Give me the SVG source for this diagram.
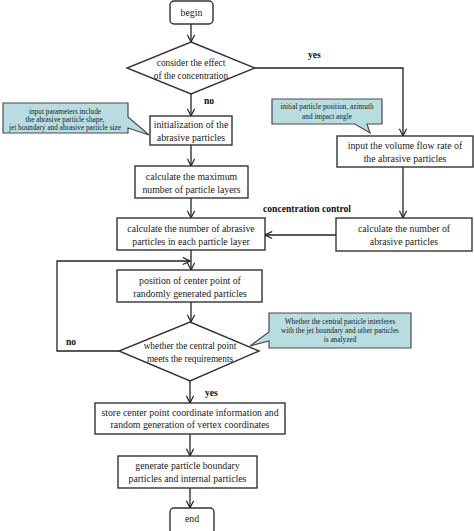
<svg xmlns="http://www.w3.org/2000/svg" width="474" height="531" viewBox="0 0 474 531">
<defs>
<marker id="arr" viewBox="0 0 10 10" refX="9" refY="5" markerWidth="9" markerHeight="9" markerUnits="userSpaceOnUse" orient="auto">
<path d="M1,1 L9,5 L1,9" fill="none" stroke="#222" stroke-width="1.3"/>
</marker>
<style>
.box{fill:#fff;stroke:#333;stroke-width:1.4}
.call{fill:#b7dde1;stroke:#4a4a4a;stroke-width:1.2}
.t{font-family:"Liberation Serif","Times New Roman",serif;font-size:9.8px;fill:#222;text-anchor:middle}
.d{font-family:"Liberation Serif","Times New Roman",serif;font-size:9.3px;fill:#222;text-anchor:middle}
.s{font-family:"Liberation Serif","Times New Roman",serif;font-size:7.3px;fill:#222;text-anchor:middle}
.b{font-family:"Liberation Serif","Times New Roman",serif;font-size:9.6px;font-weight:bold;fill:#111}
.ln{fill:none;stroke:#222;stroke-width:1.3}
</style>
</defs>
<rect width="474" height="531" fill="#fff"/>

<g id="connectors">
<line class="ln" x1="191" y1="24" x2="191" y2="42" marker-end="url(#arr)"/>
<line class="ln" x1="191" y1="94" x2="191" y2="116" marker-end="url(#arr)"/>
<polyline class="ln" points="255,68 403,68 403,136" marker-end="url(#arr)"/>
<line class="ln" x1="191" y1="145" x2="191" y2="166" marker-end="url(#arr)"/>
<line class="ln" x1="191" y1="198" x2="191" y2="218" marker-end="url(#arr)"/>
<line class="ln" x1="403" y1="167" x2="403" y2="218" marker-end="url(#arr)"/>
<line class="ln" x1="336" y1="235" x2="265" y2="235" marker-end="url(#arr)"/>
<line class="ln" x1="191" y1="250" x2="191" y2="270" marker-end="url(#arr)"/>
<polyline class="ln" points="119,351 57,351 57,261 190,261" marker-end="url(#arr)"/>
<line class="ln" x1="191" y1="302" x2="191" y2="322" marker-end="url(#arr)"/>
<line class="ln" x1="190" y1="381" x2="190" y2="403" marker-end="url(#arr)"/>
<line class="ln" x1="190" y1="434" x2="190" y2="456" marker-end="url(#arr)"/>
<line class="ln" x1="190" y1="488" x2="190" y2="508" marker-end="url(#arr)"/>
<text class="b" x="308" y="58">yes</text>
<text class="b" x="204" y="104">no</text>
<text class="b" x="263" y="212">concentration control</text>
<text class="b" x="66" y="345">no</text>
<text class="b" x="205" y="396">yes</text>
</g>

<g id="begin">
<rect class="box" x="170" y="1" width="43" height="23" rx="4"/>
<text class="t" x="191.5" y="16">begin</text>
</g>

<g id="decision1">
<polygon class="box" points="191,42 255,68 191,94 127,68"/>
<text class="d" x="191" y="66">consider the effect</text>
<text class="d" x="191" y="79">of the concentration</text>
</g>

<g id="note1">
<path class="call" d="M3,103 H128 V117 L149,135 L128,128 V133 H3 Z"/>
<text class="s" x="65" y="114">input parameters include</text>
<text class="s" x="65" y="122">the abrasive particle shape,</text>
<text class="s" x="65" y="130">jet boundary and abrasive particle size</text>
</g>

<g id="init">
<rect class="box" x="150" y="116" width="82" height="29"/>
<text class="t" x="191" y="128">initialization of the</text>
<text class="t" x="191" y="141">abrasive particles</text>
</g>

<g id="note2">
<path class="call" d="M272,99 H382 V124 H367 L370,133 L355,124 H272 Z"/>
<text class="s" x="327" y="109">initial particle position, azimuth</text>
<text class="s" x="327" y="119">and impact angle</text>
</g>

<g id="volume">
<rect class="box" x="337" y="136" width="136" height="31"/>
<text class="t" x="405" y="149">input the volume flow rate of</text>
<text class="t" x="405" y="162">the abrasive particles</text>
</g>

<g id="maxlayers">
<rect class="box" x="135" y="166" width="113" height="32"/>
<text class="t" x="191.5" y="180">calculate the maximum</text>
<text class="t" x="191.5" y="193">number of particle layers</text>
</g>

<g id="perlayer">
<rect class="box" x="117" y="218" width="148" height="32"/>
<text class="t" x="191" y="232">calculate the number of abrasive</text>
<text class="t" x="191" y="245">particles in each particle layer</text>
</g>

<g id="count">
<rect class="box" x="336" y="218" width="136" height="33"/>
<text class="t" x="404" y="232">calculate the number of</text>
<text class="t" x="404" y="245">abrasive particles</text>
</g>

<g id="position">
<rect class="box" x="117" y="270" width="145" height="32"/>
<text class="t" x="190" y="284">position of center point of</text>
<text class="t" x="190" y="297">randomly generated particles</text>
</g>

<g id="decision2">
<polygon class="box" points="190,322 259,351 190,381 119,351"/>
<text class="d" x="190" y="349">whether the central point</text>
<text class="d" x="190" y="362">meets the requirements</text>
</g>

<g id="note3">
<path class="call" d="M269,313 H411 V348 H269 V341 L250,346 L269,332 Z"/>
<text class="s" x="340" y="324">Whether the central particle interferes</text>
<text class="s" x="340" y="333">with the jet boundary and other particles</text>
<text class="s" x="340" y="342">is analyzed</text>
</g>

<g id="store">
<rect class="box" x="95" y="403" width="190" height="31"/>
<text class="t" x="190" y="416">store center point coordinate information and</text>
<text class="t" x="190" y="428">random generation of vertex coordinates</text>
</g>

<g id="generate">
<rect class="box" x="118" y="456" width="139" height="32"/>
<text class="t" x="187.5" y="469">generate particle boundary</text>
<text class="t" x="187.5" y="482">particles and internal particles</text>
</g>

<g id="end">
<rect class="box" x="170" y="508" width="44" height="26" rx="4"/>
<text class="t" x="192" y="522">end</text>
</g>
</svg>
